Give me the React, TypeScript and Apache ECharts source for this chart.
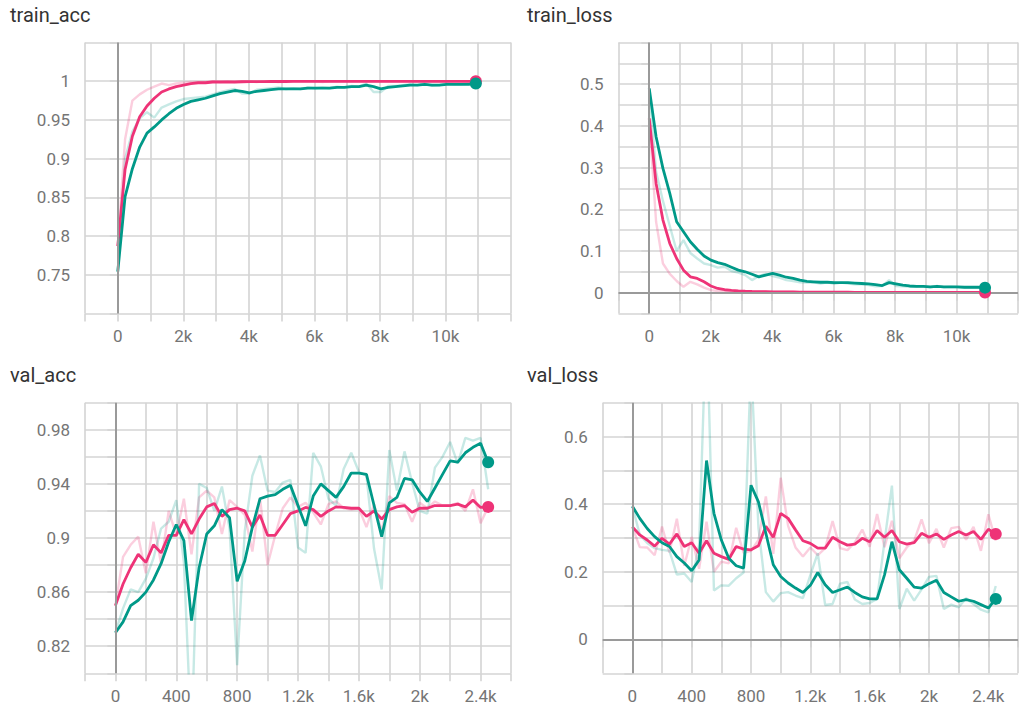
import React, { useEffect, useRef } from "react";
import * as echarts from "echarts";

const PINK = "#ee3377";
const TEAL = "#009988";

const trainSteps = [
  0, 223, 446, 669, 892, 1115, 1338, 1561, 1784, 2007,
  2230, 2453, 2676, 2899, 3122, 3345, 3568, 3791, 4014, 4237,
  4460, 4683, 4906, 5129, 5352, 5575, 5798, 6021, 6244, 6467,
  6690, 6913, 7136, 7359, 7582, 7805, 8028, 8251, 8474, 8697,
  8920, 9143, 9366, 9589, 9812, 10035, 10258, 10481, 10704, 10927,
];
const valSteps = [
  0, 50, 100, 150, 200, 250, 300, 350, 400, 450,
  500, 550, 600, 650, 700, 750, 800, 850, 900, 950,
  1000, 1050, 1100, 1150, 1200, 1250, 1300, 1350, 1400, 1450,
  1500, 1550, 1600, 1650, 1700, 1750, 1800, 1850, 1900, 1950,
  2000, 2050, 2100, 2150, 2200, 2250, 2300, 2350, 2400, 2450,
];

// train_acc
const trainAccPinkSmooth = [
  0.787, 0.886, 0.929, 0.954, 0.968, 0.978, 0.986, 0.990, 0.993, 0.995,
  0.997, 0.998, 0.998, 0.999, 0.999, 0.999, 0.999, 0.9993, 0.9994, 0.9995,
  0.9995, 0.9996, 0.9996, 0.9996, 0.9997, 0.9997, 0.9997, 0.9997, 0.9998, 0.9998,
  0.9998, 0.9998, 0.9998, 0.9998, 0.9998, 0.9999, 0.9999, 0.9999, 0.9999, 0.9999,
  0.9999, 0.9999, 0.9999, 0.9999, 0.9999, 0.9999, 0.9999, 0.9999, 0.9999, 0.9999,
];
const trainAccPinkRaw = [
  0.787, 0.925, 0.975, 0.983, 0.989, 0.993, 0.997, 0.995, 0.997, 0.998,
  0.999, 0.999, 0.999, 1.0, 0.999, 1.0, 0.999, 1.0, 1.0, 0.999,
  1.0, 1.0, 0.999, 1.0, 1.0, 1.0, 1.0, 1.0, 0.999, 1.0,
  1.0, 1.0, 1.0, 1.0, 1.0, 1.0, 1.0, 1.0, 1.0, 1.0,
  1.0, 1.0, 1.0, 1.0, 1.0, 1.0, 1.0, 1.0, 1.0, 1.0,
];
const trainAccTealSmooth = [
  0.754, 0.851, 0.887, 0.915, 0.933, 0.941, 0.950, 0.958, 0.965, 0.970,
  0.974, 0.976, 0.978, 0.981, 0.984, 0.986, 0.988, 0.987, 0.985, 0.987,
  0.988, 0.989, 0.990, 0.990, 0.990, 0.990, 0.991, 0.991, 0.991, 0.991,
  0.992, 0.992, 0.993, 0.993, 0.995, 0.993, 0.990, 0.992, 0.993, 0.994,
  0.995, 0.995, 0.996, 0.995, 0.995, 0.996, 0.996, 0.996, 0.996, 0.997,
];
const trainAccTealRaw = [
  0.754, 0.900, 0.935, 0.952, 0.960, 0.953, 0.966, 0.970, 0.974, 0.977,
  0.978, 0.979, 0.980, 0.983, 0.986, 0.988, 0.990, 0.984, 0.984, 0.989,
  0.990, 0.991, 0.992, 0.990, 0.991, 0.990, 0.992, 0.991, 0.992, 0.991,
  0.993, 0.992, 0.994, 0.993, 0.997, 0.986, 0.986, 0.994, 0.994, 0.995,
  0.996, 0.995, 0.997, 0.994, 0.995, 0.997, 0.996, 0.996, 0.997, 0.997,
];

// train_loss
const trainLossPinkSmooth = [
  0.418, 0.262, 0.174, 0.118, 0.082, 0.054, 0.038, 0.034, 0.026, 0.016,
  0.010, 0.007, 0.0056, 0.0045, 0.0036, 0.003, 0.0026, 0.0023, 0.002, 0.0018,
  0.0017, 0.0016, 0.0015, 0.0014, 0.0013, 0.0012, 0.0012, 0.0011, 0.001, 0.001,
  0.0009, 0.0009, 0.0008, 0.0008, 0.0008, 0.0009, 0.0008, 0.0007, 0.0007, 0.0007,
  0.0006, 0.0006, 0.0006, 0.0006, 0.0005, 0.0005, 0.0005, 0.0005, 0.0005, 0.0005,
];
const trainLossPinkRaw = [
  0.418, 0.170, 0.070, 0.045, 0.028, 0.014, 0.026, 0.020, 0.012, 0.006,
  0.004, 0.003, 0.003, 0.002, 0.002, 0.002, 0.002, 0.002, 0.0015, 0.0015,
  0.0015, 0.0014, 0.0013, 0.0012, 0.0012, 0.0011, 0.001, 0.001, 0.0009, 0.0009,
  0.0008, 0.0008, 0.0008, 0.0007, 0.0008, 0.001, 0.0007, 0.0007, 0.0006, 0.0006,
  0.0006, 0.0005, 0.0005, 0.0005, 0.0005, 0.0005, 0.0004, 0.0005, 0.0004, 0.0004,
];
const trainLossTealSmooth = [
  0.490, 0.374, 0.298, 0.238, 0.170, 0.146, 0.122, 0.104, 0.088, 0.078,
  0.072, 0.068, 0.061, 0.054, 0.050, 0.044, 0.038, 0.042, 0.046, 0.042,
  0.037, 0.034, 0.030, 0.027, 0.026, 0.025, 0.025, 0.024, 0.024, 0.024,
  0.023, 0.022, 0.021, 0.019, 0.017, 0.024, 0.021, 0.018, 0.016, 0.015,
  0.015, 0.014, 0.015, 0.014, 0.014, 0.014, 0.013, 0.013, 0.013, 0.012,
];
const trainLossTealRaw = [
  0.490, 0.290, 0.220, 0.160, 0.100, 0.126, 0.095, 0.082, 0.070, 0.066,
  0.060, 0.062, 0.052, 0.048, 0.042, 0.030, 0.040, 0.045, 0.040, 0.036,
  0.030, 0.028, 0.025, 0.024, 0.025, 0.022, 0.025, 0.021, 0.024, 0.022,
  0.020, 0.020, 0.018, 0.015, 0.016, 0.030, 0.016, 0.015, 0.014, 0.014,
  0.015, 0.013, 0.016, 0.013, 0.014, 0.013, 0.012, 0.013, 0.012, 0.012,
];

// val_acc
const valAccPinkSmooth = [
  0.850, 0.866, 0.878, 0.888, 0.882, 0.895, 0.889, 0.902, 0.902, 0.9135,
  0.903, 0.914, 0.923, 0.9255, 0.916, 0.921, 0.922, 0.920, 0.908, 0.917,
  0.902, 0.902, 0.910, 0.918, 0.920, 0.9226, 0.921, 0.916, 0.920, 0.923,
  0.9226, 0.922, 0.922, 0.916, 0.920, 0.914, 0.921, 0.923, 0.924, 0.919,
  0.922, 0.922, 0.924, 0.924, 0.924, 0.925, 0.923, 0.928, 0.9226, 0.923,
];
const valAccPinkRaw = [
  0.850, 0.886, 0.895, 0.901, 0.874, 0.912, 0.881, 0.920, 0.902, 0.929,
  0.888, 0.930, 0.935, 0.930, 0.903, 0.928, 0.923, 0.917, 0.890, 0.930,
  0.880, 0.902, 0.922, 0.930, 0.923, 0.926, 0.919, 0.910, 0.925, 0.927,
  0.922, 0.921, 0.922, 0.908, 0.925, 0.905, 0.931, 0.926, 0.925, 0.912,
  0.926, 0.922, 0.927, 0.924, 0.924, 0.926, 0.920, 0.936, 0.911, 0.923,
];
const valAccTealSmooth = [
  0.830, 0.838, 0.850, 0.854, 0.860, 0.869, 0.881, 0.897, 0.910, 0.898,
  0.839, 0.878, 0.903, 0.909, 0.921, 0.915, 0.868, 0.883, 0.908, 0.929,
  0.931, 0.932, 0.936, 0.939, 0.924, 0.909, 0.931, 0.940, 0.935, 0.930,
  0.938, 0.948, 0.948, 0.947, 0.924, 0.901, 0.926, 0.930, 0.944, 0.943,
  0.934, 0.927, 0.937, 0.947, 0.957, 0.956, 0.963, 0.967, 0.970, 0.956,
];
const valAccTealRaw = [
  0.830, 0.848, 0.862, 0.860, 0.870, 0.885, 0.907, 0.912, 0.928, 0.882,
  0.750, 0.940, 0.937, 0.920, 0.938, 0.907, 0.806, 0.905, 0.946, 0.961,
  0.935, 0.934, 0.941, 0.943, 0.893, 0.889, 0.963, 0.953, 0.929, 0.924,
  0.951, 0.963, 0.949, 0.946, 0.892, 0.862, 0.965, 0.935, 0.964, 0.941,
  0.920, 0.918, 0.952, 0.960, 0.971, 0.955, 0.974, 0.972, 0.974, 0.936,
];

// val_loss
const valLossPinkSmooth = [
  0.333, 0.309, 0.294, 0.276, 0.299, 0.282, 0.312, 0.275, 0.286, 0.255,
  0.292, 0.255, 0.245, 0.237, 0.275, 0.267, 0.265, 0.277, 0.335, 0.302,
  0.373, 0.358, 0.324, 0.292, 0.284, 0.270, 0.270, 0.302, 0.289, 0.279,
  0.282, 0.299, 0.289, 0.322, 0.302, 0.322, 0.289, 0.282, 0.286, 0.314,
  0.302, 0.312, 0.296, 0.309, 0.319, 0.309, 0.319, 0.296, 0.326, 0.312,
];
const valLossPinkRaw = [
  0.333, 0.273, 0.272, 0.249, 0.334, 0.257, 0.357, 0.218, 0.303, 0.209,
  0.348, 0.200, 0.230, 0.225, 0.330, 0.256, 0.262, 0.294, 0.423, 0.253,
  0.478, 0.336, 0.272, 0.245, 0.272, 0.249, 0.270, 0.350, 0.270, 0.264,
  0.287, 0.325, 0.274, 0.371, 0.273, 0.351, 0.240, 0.272, 0.292, 0.355,
  0.285, 0.327, 0.272, 0.329, 0.333, 0.295, 0.333, 0.262, 0.370, 0.292,
];
const valLossTealSmooth = [
  0.394, 0.358, 0.328, 0.304, 0.286, 0.275, 0.245, 0.226, 0.203, 0.235,
  0.529, 0.373, 0.294, 0.240, 0.218, 0.211, 0.456, 0.407, 0.314, 0.221,
  0.186, 0.167, 0.152, 0.139, 0.160, 0.198, 0.162, 0.139, 0.147, 0.155,
  0.139, 0.126, 0.120, 0.120, 0.191, 0.289, 0.206, 0.181, 0.155, 0.152,
  0.165, 0.175, 0.139, 0.126, 0.113, 0.118, 0.113, 0.103, 0.093, 0.120,
];
const valLossTealRaw = [
  0.394, 0.310, 0.285, 0.270, 0.265, 0.262, 0.192, 0.195, 0.170, 0.280,
  0.970, 0.145, 0.160, 0.159, 0.181, 0.198, 0.820, 0.330, 0.140, 0.112,
  0.137, 0.140, 0.130, 0.122, 0.190, 0.255, 0.102, 0.105, 0.165, 0.170,
  0.118, 0.105, 0.108, 0.120, 0.290, 0.455, 0.090, 0.150, 0.115, 0.148,
  0.185, 0.188, 0.090, 0.103, 0.095, 0.122, 0.105, 0.088, 0.080, 0.158,
];

const titles = ["train_acc", "train_loss", "val_acc", "val_loss"];

const GRID_COLOR = "#d4d4d4";
const ZERO_COLOR = "#9a9a9a";
const LABEL_COLOR = "#757575";
const FONT = "Roboto, 'Noto Sans', sans-serif";

const zip = (xs: number[], ys: number[]) => xs.map((x, i) => [x, ys[i]]);

const fmtK = (v: number) => {
  if (v < 0 || v > 10000 || Math.round(v) % 2000 !== 0) return "";
  return v === 0 ? "0" : `${Math.round(v / 1000)}k`;
};
const fmtVal = (v: number) => {
  const r = Math.round(v);
  if (r < 0 || r > 2400 || r % 400 !== 0) return "";
  return r < 1000 ? String(r) : `${r / 1000}k`;
};
const fmtAcc1 = (v: number) => {
  const r = Math.round(v * 100);
  if (r < 75 || r > 100) return "";
  return String(r / 100);
};
const fmtLoss1 = (v: number) => {
  const r = Math.round(v * 100);
  if (r < 0 || r > 50 || r % 10 !== 0) return "";
  return String(r / 100);
};
const fmtAcc2 = (v: number) => {
  const r = Math.round(v * 100);
  if (r % 4 !== 2 || r > 98) return "";
  return String(r / 100);
};
const fmtLoss2 = (v: number) => {
  const r = Math.round(v * 10);
  if (r < 0 || r > 6 || r % 2 !== 0) return "";
  return String(r / 10);
};

export default function App() {
  const ref = useRef<HTMLDivElement>(null);

  useEffect(() => {
    if (!ref.current) return;
    const chart = echarts.init(ref.current, undefined, { renderer: "svg" });

    const grids = [
      { left: 85, top: 42.5, width: 426, height: 271 },
      { left: 618.5, top: 42.5, width: 411.5, height: 271 },
      { left: 85, top: 402.7, width: 426, height: 270.6 },
      { left: 602.7, top: 402.7, width: 427, height: 270.6 },
    ];

    const xCfg = [
      { min: -1000, max: 12000, interval: 1000, fmt: fmtK },
      { min: -1000, max: 12000, interval: 1000, fmt: fmtK },
      { min: -200, max: 2600, interval: 200, fmt: fmtVal },
      { min: -200, max: 2600, interval: 200, fmt: fmtVal },
    ];
    const yCfg = [
      { min: 0.7, max: 1.05, interval: 0.05, fmt: fmtAcc1 },
      { min: -0.05, max: 0.6, interval: 0.05, fmt: fmtLoss1 },
      { min: 0.8, max: 1.0, interval: 0.02, fmt: fmtAcc2 },
      { min: -0.1, max: 0.7, interval: 0.1, fmt: fmtLoss2 },
    ];

    const panels = [
      { steps: trainSteps, pr: trainAccPinkRaw, tr: trainAccTealRaw, ps: trainAccPinkSmooth, ts: trainAccTealSmooth, zeroY: false },
      { steps: trainSteps, pr: trainLossPinkRaw, tr: trainLossTealRaw, ps: trainLossPinkSmooth, ts: trainLossTealSmooth, zeroY: true },
      { steps: valSteps, pr: valAccPinkRaw, tr: valAccTealRaw, ps: valAccPinkSmooth, ts: valAccTealSmooth, zeroY: false },
      { steps: valSteps, pr: valLossPinkRaw, tr: valLossTealRaw, ps: valLossPinkSmooth, ts: valLossTealSmooth, zeroY: true },
    ];

    const axisCommon = {
      type: "value" as const,
      axisLine: { show: false },
      axisTick: { show: true, length: 8, lineStyle: { color: GRID_COLOR, width: 1.6 } },
      splitLine: { show: true, lineStyle: { color: GRID_COLOR, width: 1.6 } },
    };

    const xAxis = xCfg.map((c, i) => ({
      ...axisCommon,
      gridIndex: i,
      min: c.min,
      max: c.max,
      interval: c.interval,
      axisLabel: {
        formatter: c.fmt,
        color: LABEL_COLOR,
        fontSize: 17,
        fontFamily: FONT,
        margin: 14,
        showMinLabel: true,
        showMaxLabel: true,
        hideOverlap: false,
      },
    }));
    const yAxis = yCfg.map((c, i) => ({
      ...axisCommon,
      gridIndex: i,
      min: c.min,
      max: c.max,
      interval: c.interval,
      axisLabel: {
        formatter: c.fmt,
        color: LABEL_COLOR,
        fontSize: 17,
        fontFamily: FONT,
        margin: 15,
        showMinLabel: true,
        showMaxLabel: true,
      },
    }));

    const series: any[] = [];
    panels.forEach((p, i) => {
      const zeroData: any[] = [{ xAxis: 0 }];
      if (p.zeroY) zeroData.push({ yAxis: 0 });
      const base = { xAxisIndex: i, yAxisIndex: i, showSymbol: false, silent: true, clip: true };
      series.push({
        ...base,
        type: "line",
        data: zip(p.steps, p.pr),
        lineStyle: { color: PINK, width: 2.4, opacity: 0.24 },
        itemStyle: { color: PINK },
        z: 1,
        markLine: {
          silent: true,
          symbol: ["none", "none"],
          label: { show: false },
          lineStyle: { color: ZERO_COLOR, width: 2, type: "solid" },
          emphasis: { disabled: true },
          data: zeroData,
        },
      });
      series.push({
        ...base,
        type: "line",
        data: zip(p.steps, p.tr),
        lineStyle: { color: TEAL, width: 2.4, opacity: 0.22 },
        itemStyle: { color: TEAL },
        z: 2,
      });
      series.push({
        ...base,
        type: "line",
        data: zip(p.steps, p.ps),
        lineStyle: { color: PINK, width: 2.8 },
        itemStyle: { color: PINK },
        z: 3,
      });
      series.push({
        ...base,
        type: "line",
        data: zip(p.steps, p.ts),
        lineStyle: { color: TEAL, width: 2.8 },
        itemStyle: { color: TEAL },
        z: 4,
      });
      const last = p.steps.length - 1;
      series.push({
        type: "scatter",
        xAxisIndex: i,
        yAxisIndex: i,
        silent: true,
        symbolSize: 12,
        itemStyle: { color: PINK, opacity: 1 },
        data: [[p.steps[last], p.ps[last]]],
        z: 5,
      });
      series.push({
        type: "scatter",
        xAxisIndex: i,
        yAxisIndex: i,
        silent: true,
        symbolSize: 12,
        itemStyle: { color: TEAL, opacity: 1 },
        data: [[p.steps[last], p.ts[last]]],
        z: 6,
      });
    });

    const titlePos = [
      { left: 10, top: 5 },
      { left: 527, top: 5 },
      { left: 10, top: 365 },
      { left: 527, top: 365 },
    ];

    chart.setOption({
      animation: false,
      backgroundColor: "#ffffff",
      title: titles.map((t, i) => ({
        text: t,
        left: titlePos[i].left,
        top: titlePos[i].top,
        padding: 0,
        textStyle: { fontSize: 20, fontWeight: "normal", color: "#333333", fontFamily: FONT },
      })),
      grid: grids,
      xAxis,
      yAxis,
      series,
    });

    return () => chart.dispose();
  }, []);

  return (
    <div
      ref={ref}
      style={{ position: "absolute", left: 0, top: 0, width: 1021, height: 708, background: "#fff" }}
    />
  );
}
